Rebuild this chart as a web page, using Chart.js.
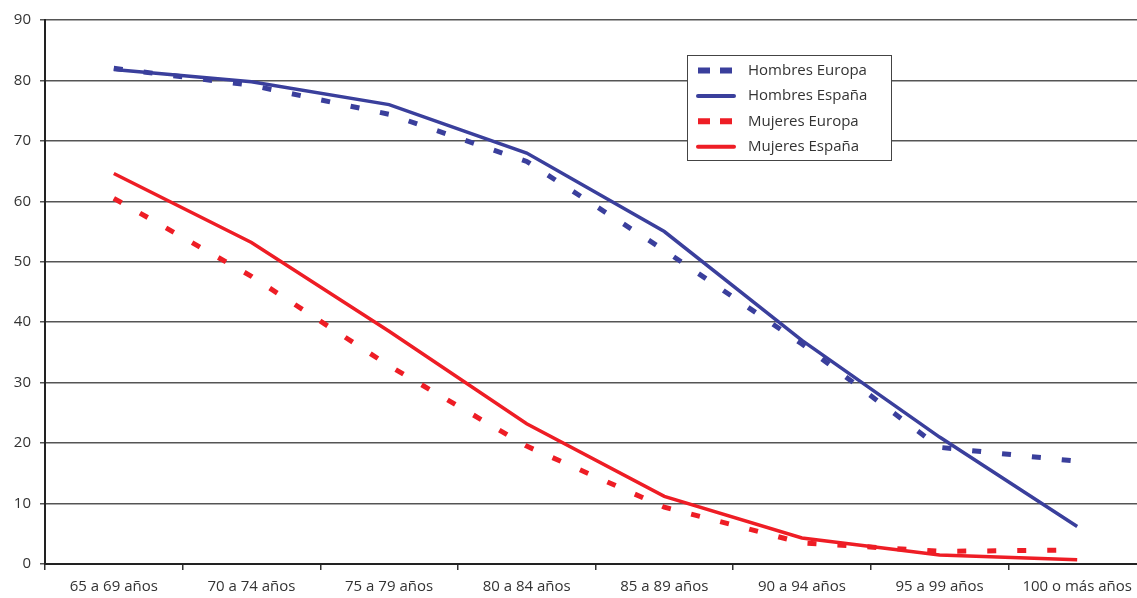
<!DOCTYPE html>
<html>
<head>
<meta charset="utf-8">
<script src="https://cdn.jsdelivr.net/npm/chart.js@4.4.1/dist/chart.umd.min.js"></script>
<style>
  html, body { margin: 0; padding: 0; background: #fff; overflow: hidden; }
  #wrap { width: 1150px; height: 598px; position: relative; }
</style>
</head>
<body>
<div id="wrap"><canvas id="c"></canvas></div>
<script>
  // categorias de edad
  var categorias = ['65 a 69 años', '70 a 74 años', '75 a 79 años', '80 a 84 años',
                    '85 a 89 años', '90 a 94 años', '95 a 99 años', '100 o más años'];

  // series
  var hombresEuropa = [82, 79.2, 74.4, 66.6, 51.9, 36.4, 19.3, 17];
  var hombresEspana = [81.8, 79.8, 76, 68, 55, 37, 21, 6.2];
  var mujeresEuropa = [60.5, 47.6, 32.8, 19.5, 9.4, 3.5, 2.1, 2.3];
  var mujeresEspana = [64.6, 53.2, 38.5, 23.2, 11.2, 4.3, 1.5, 0.7];

  var yTicks = [0, 10, 20, 30, 40, 50, 60, 70, 80, 90];

  var AZUL = '#3a3f9c';
  var ROJO = '#ee1d25';
  var FONT = "'Open Sans', 'DejaVu Sans', sans-serif";

  // leyenda dentro del area del grafico
  var legendBox = {
    id: 'legendBox',
    afterDraw: function (chart) {
      var ctx = chart.ctx;
      var x = 687, y = 55, w = 204, h = 105;
      ctx.save();
      ctx.fillStyle = '#fff';
      ctx.fillRect(x, y, w, h);
      ctx.strokeStyle = '#444';
      ctx.lineWidth = 1;
      ctx.strokeRect(x + 0.5, y + 0.5, w, h);
      ctx.font = '15px ' + FONT;
      ctx.textBaseline = 'middle';
      chart.data.datasets.forEach(function (ds, i) {
        var ry = 70.5 + i * 25.4;
        ctx.beginPath();
        ctx.strokeStyle = ds.borderColor;
        if (ds.borderDash && ds.borderDash.length) {
          ctx.lineWidth = 6;
          ctx.lineCap = 'butt';
          ctx.setLineDash([12, 10]);
        } else {
          ctx.lineWidth = 4;
          ctx.lineCap = 'round';
          ctx.setLineDash([]);
        }
        ctx.moveTo(698, ry);
        ctx.lineTo(734, ry);
        ctx.stroke();
        ctx.setLineDash([]);
        ctx.fillStyle = '#333';
        ctx.fillText(ds.label, 748, ry);
      });
      ctx.restore();
    }
  };

  new Chart(document.getElementById('c'), {
    type: 'line',
    data: {
      labels: categorias,
      datasets: [
        { label: 'Hombres Europa', data: hombresEuropa, borderColor: AZUL, borderWidth: 5, borderDash: [9, 21], borderCapStyle: 'butt' },
        { label: 'Hombres España', data: hombresEspana, borderColor: AZUL, borderWidth: 3.5 },
        { label: 'Mujeres Europa', data: mujeresEuropa, borderColor: ROJO, borderWidth: 5, borderDash: [9, 21], borderCapStyle: 'butt' },
        { label: 'Mujeres España', data: mujeresEspana, borderColor: ROJO, borderWidth: 3.5 }
      ]
    },
    options: {
      responsive: true,
      maintainAspectRatio: false,
      animation: false,
      layout: { padding: { top: 20, right: 4, left: 0, bottom: 0 } },
      elements: { point: { radius: 0, hoverRadius: 0 }, line: { tension: 0 } },
      plugins: { legend: { display: false }, tooltip: { enabled: false } },
      scales: {
        x: {
          offset: true,
          grid: { offset: true, drawOnChartArea: false, color: '#333', lineWidth: 1.5, tickLength: 6 },
          border: { color: '#222', width: 2 },
          ticks: { color: '#333', font: { family: FONT, size: 15 }, padding: 8, maxRotation: 0, autoSkip: false },
          afterFit: function (s) { s.height = 34; }
        },
        y: {
          min: 0,
          max: 90,
          afterBuildTicks: function (s) { s.ticks = yTicks.map(function (v) { return { value: v }; }); },
          grid: { color: '#555', lineWidth: 1.5, tickLength: 5 },
          border: { color: '#222', width: 2 },
          ticks: { color: '#333', font: { family: FONT, size: 15 }, padding: 9 },
          afterFit: function (s) { s.width = 45; }
        }
      }
    },
    plugins: [legendBox]
  });
</script>
</body>
</html>
